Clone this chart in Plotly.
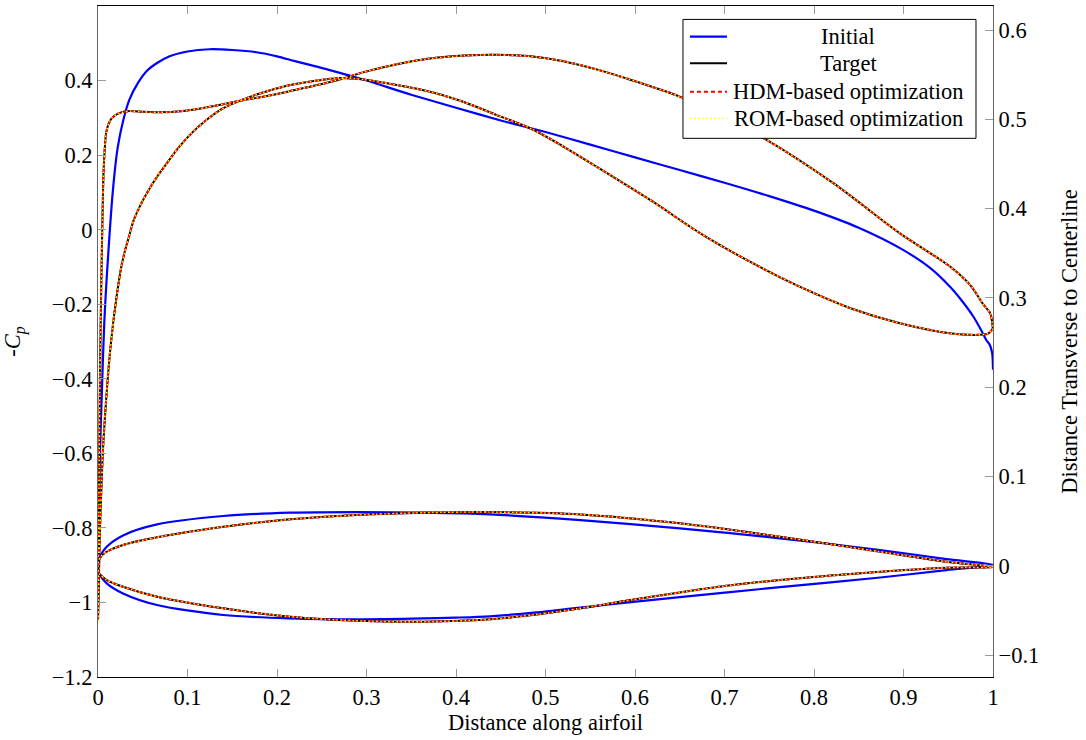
import plotly.graph_objects as go

# ---------------- data ----------------
# Pressure coefficient (-Cp) along the airfoil, initial shape (upper and lower coincide)
init_cp_x = [0, 0.001, 0.002, 0.004, 0.007, 0.0115, 0.017, 0.022, 0.0283, 0.035, 0.045,
             0.055, 0.066, 0.08, 0.1, 0.125, 0.15, 0.177, 0.2, 0.22, 0.24, 0.259, 0.3,
             0.35, 0.4, 0.45, 0.5, 0.55, 0.6, 0.65, 0.7, 0.75, 0.8, 0.85, 0.9, 0.93,
             0.952, 0.965, 0.978, 0.988, 0.993, 0.996, 0.999, 1.0]
init_cp = [-1.0, -0.78, -0.62, -0.46, -0.25, -0.063, 0.115, 0.22, 0.294, 0.348, 0.395,
           0.427, 0.447, 0.465, 0.478, 0.484, 0.482, 0.476, 0.465, 0.452, 0.440, 0.428, 0.40,
           0.362, 0.327, 0.293, 0.262, 0.228, 0.194, 0.160, 0.126, 0.090, 0.051, 0.005, -0.055, -0.103,
           -0.153, -0.19, -0.233, -0.275, -0.298, -0.307, -0.33, -0.376]

# Target -Cp, first surface (plateau near the leading edge)
tgt_cpA_x = [0, 0.001, 0.002, 0.003, 0.004, 0.005, 0.0065, 0.0097, 0.015, 0.023, 0.035,
             0.05, 0.066, 0.085, 0.103, 0.13, 0.159, 0.19, 0.215, 0.245, 0.27, 0.296,
             0.334, 0.371, 0.41, 0.445, 0.483, 0.52, 0.557, 0.594, 0.65, 0.70, 0.747,
             0.822, 0.896, 0.952, 0.975, 0.989, 0.997, 1.0]
tgt_cpA = [-1.05, -0.75, -0.45, -0.25, -0.10, 0.03, 0.17, 0.267, 0.298, 0.312, 0.318,
           0.316, 0.315, 0.316, 0.321, 0.332, 0.346, 0.359, 0.372, 0.388, 0.403, 0.422,
           0.444, 0.459, 0.467, 0.469, 0.465, 0.452, 0.43, 0.403, 0.357, 0.30, 0.241,
           0.124, -0.01, -0.099, -0.15, -0.2, -0.225, -0.27]

# Target -Cp, second surface (gradual rise)
tgt_cpB_x = [0, 0.002, 0.004, 0.006, 0.009, 0.013, 0.018, 0.026, 0.03, 0.035, 0.04, 0.05,
             0.058, 0.066, 0.075, 0.09, 0.103, 0.12, 0.14, 0.166, 0.19, 0.215, 0.245, 0.27,
             0.296, 0.334, 0.371, 0.408, 0.445, 0.483, 0.52, 0.557, 0.62, 0.673, 0.73, 0.784,
             0.84, 0.896, 0.952, 0.985, 0.995, 1.0]
tgt_cpB = [-1.05, -0.82, -0.68, -0.57, -0.46, -0.34, -0.23, -0.10, -0.058, -0.015, 0.026, 0.078,
           0.112, 0.142, 0.172, 0.220, 0.255, 0.292, 0.326, 0.353, 0.372, 0.388, 0.40, 0.407,
           0.403, 0.388, 0.370, 0.343, 0.308, 0.272, 0.223, 0.169, 0.075, -0.01, -0.088, -0.153,
           -0.21, -0.251, -0.278, -0.282, -0.278, -0.265]

# Airfoil geometry (distance transverse to centerline), closed loop TE -> upper -> LE -> lower -> TE
init_geo_x = [1.0, 0.948, 0.874, 0.762, 0.65, 0.539, 0.438, 0.364, 0.289, 0.215, 0.14,
              0.066, 0.028, 0.0097, 0.003, 0.0005, 0.0,
              0.0005, 0.002, 0.0097, 0.028, 0.066, 0.14, 0.215, 0.289, 0.364, 0.40, 0.438,
              0.49, 0.539, 0.65, 0.762, 0.874, 0.948, 1.0]
init_geo_z = [0.0008, 0.0075, 0.0176, 0.0307, 0.0419, 0.0512, 0.0575, 0.0594, 0.0601, 0.0594, 0.0557,
              0.0463, 0.034, 0.0213, 0.012, 0.005, -0.001,
              -0.007, -0.0104, -0.0197, -0.031, -0.044, -0.0552, -0.0589, -0.060, -0.0590, -0.0581, -0.0566,
              -0.0522, -0.0468, -0.0352, -0.0240, -0.0132, -0.0049, 0.0008]

tgt_geo_x = [1.0, 0.948, 0.874, 0.762, 0.65, 0.539, 0.438, 0.364, 0.289, 0.215, 0.14,
             0.066, 0.028, 0.0097, 0.003, 0.0005, 0.0,
             0.0005, 0.002, 0.0097, 0.028, 0.066, 0.14, 0.215, 0.289, 0.364, 0.438,
             0.49, 0.539, 0.59, 0.65, 0.70, 0.762, 0.874, 0.948, 1.0]
tgt_geo_z = [-0.0015, 0.0045, 0.0157, 0.0325, 0.0475, 0.0575, 0.0601, 0.0594, 0.0568, 0.052, 0.0437,
             0.0318, 0.0232, 0.0157, 0.010, 0.005, -0.001,
             -0.0065, -0.0095, -0.016, -0.0235, -0.0347, -0.0477, -0.0571, -0.0616, -0.0627, -0.060,
             -0.0545, -0.0477, -0.0392, -0.0300, -0.0228, -0.0160, -0.0067, -0.0022, -0.0015]

# Optimized results coincide with the target in the reference
hdm_cpA_x, hdm_cpA = tgt_cpA_x, tgt_cpA
hdm_cpB_x, hdm_cpB = tgt_cpB_x, tgt_cpB
hdm_geo_x, hdm_geo_z = tgt_geo_x, tgt_geo_z
rom_cpA_x, rom_cpA = tgt_cpA_x, tgt_cpA
rom_cpB_x, rom_cpB = tgt_cpB_x, tgt_cpB
rom_geo_x, rom_geo_z = tgt_geo_x, tgt_geo_z

series_names = ["Initial", "Target", "HDM-based optimization", "ROM-based optimization"]

# ---------------- figure ----------------
FONT = "Liberation Serif, Times New Roman, serif"
FS = 22.5
fig = go.Figure()

styles = {
    "Initial": dict(color="#0000ff", width=2.2, dash="solid"),
    "Target": dict(color="#000000", width=2.0, dash="solid"),
    "HDM-based optimization": dict(color="#ff0000", width=2.0, dash="4px,3px"),
    "ROM-based optimization": dict(color="#ffff00", width=1.4, dash="1.5px,2.5px"),
}

data = {
    "Initial": [(init_cp_x, init_cp, "y"), (init_geo_x, init_geo_z, "y2")],
    "Target": [(tgt_cpA_x, tgt_cpA, "y"), (tgt_cpB_x, tgt_cpB, "y"), (tgt_geo_x, tgt_geo_z, "y2")],
    "HDM-based optimization": [(hdm_cpA_x, hdm_cpA, "y"), (hdm_cpB_x, hdm_cpB, "y"), (hdm_geo_x, hdm_geo_z, "y2")],
    "ROM-based optimization": [(rom_cpA_x, rom_cpA, "y"), (rom_cpB_x, rom_cpB, "y"), (rom_geo_x, rom_geo_z, "y2")],
}

for name in series_names:
    for i, (xs, ys, yax) in enumerate(data[name]):
        fig.add_trace(go.Scatter(
            x=xs, y=ys, yaxis=yax, mode="lines", name=name,
            legendgroup=name, showlegend=(i == 0),
            line=dict(color=styles[name]["color"], width=styles[name]["width"],
                      dash=styles[name]["dash"], shape="spline", smoothing=0.8),
            hoverinfo="skip",
        ))

tick_font = dict(family=FONT, size=FS, color="#000")
title_font = dict(family=FONT, size=FS, color="#000")

fig.update_layout(
    width=1086, height=740,
    margin=dict(l=98, r=93, t=6, b=63),
    paper_bgcolor="white", plot_bgcolor="white",
    showlegend=False,
    font=dict(family=FONT, size=FS, color="#000"),
    xaxis=dict(range=[0, 1], dtick=0.1, tick0=0, ticks="inside", ticklen=8,
               tickcolor="#999", showline=True, linecolor="#000", linewidth=1,
               mirror="ticks", showgrid=False, zeroline=False, tickfont=tick_font,
               title=dict(text="Distance along airfoil", font=title_font, standoff=1)),
    yaxis=dict(range=[-1.2, 0.6], dtick=0.2, tick0=0, ticks="inside", ticklen=8,
               tickcolor="#999", showline=True, linecolor="#666", linewidth=1,
               showgrid=False, zeroline=False, tickfont=tick_font,
               title=dict(text="-<i>C</i><sub><i>p</i></sub>", font=title_font, standoff=26)),
    yaxis2=dict(range=[-0.1246, 0.6269], dtick=0.1, tick0=0, ticks="inside", ticklen=8,
                tickcolor="#999", showline=True, linecolor="#666", linewidth=1,
                overlaying="y", side="right", anchor="x",
                showgrid=False, zeroline=False, tickfont=tick_font,
                title=dict(text="Distance Transverse to Centerline", font=title_font, standoff=22)),
)

# ---------------- legend box (drawn as in the reference: centred labels) ----------------
L, R, T, B = 0.6536, 0.981, 0.980, 0.8028
fig.add_shape(type="rect", xref="paper", yref="paper", x0=L, x1=R, y0=B, y1=T,
              fillcolor="white", line=dict(color="#000", width=1), layer="above")
row_y = [0.9543, 0.9147, 0.8723, 0.8326]
for name, ry in zip(series_names, row_y):
    st = styles[name]
    fig.add_shape(type="line", xref="paper", yref="paper", x0=0.6614, x1=0.7028, y0=ry, y1=ry,
                  line=dict(color=st["color"], width=st["width"], dash=st["dash"]), layer="above")
    fig.add_annotation(xref="paper", yref="paper", x=0.838, y=ry, text=name, showarrow=False,
                       xanchor="center", yanchor="middle",
                       font=dict(family=FONT, size=FS, color="#000"))

fig.write_html("out.html")
